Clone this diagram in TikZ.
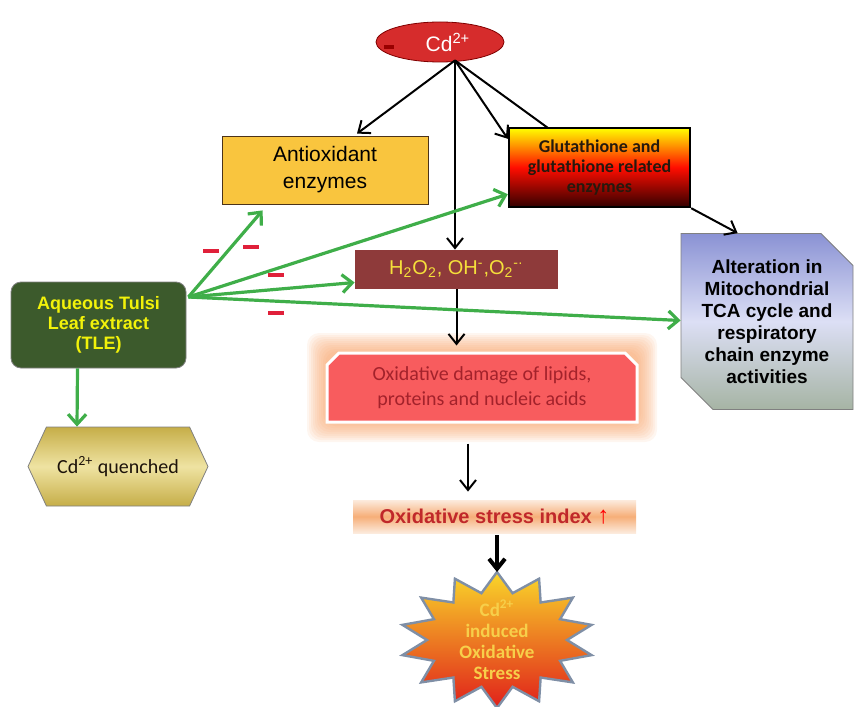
\documentclass[tikz,border=0pt]{standalone}
\usepackage{fontspec}
\setmainfont{Liberation Sans}
\newfontfamily\calib{Carlito}
\usetikzlibrary{positioning}
\usetikzlibrary{calc}
\usetikzlibrary{shapes.geometric}
\usetikzlibrary{shapes.misc}
\usetikzlibrary{shapes.symbols}
\usetikzlibrary{arrows.meta}
\definecolor{cdred}{HTML}{D62C2C}
\definecolor{antiox}{HTML}{F9C53E}
\definecolor{rosbox}{HTML}{8E3A3A}
\definecolor{rostext}{HTML}{F5E03A}
\definecolor{tlegreen}{HTML}{3C5A2C}
\definecolor{tleyellow}{HTML}{F2F20A}
\definecolor{arrowgreen}{HTML}{3FAE49}
\definecolor{dmgred}{HTML}{F85C5E}
\definecolor{dmgtext}{HTML}{A3222B}
\definecolor{glow}{HTML}{F79A5A}
\definecolor{minusred}{HTML}{E0203A}
\definecolor{qgold}{HTML}{C6AE48}
\definecolor{qlight}{HTML}{EFE3A2}
\definecolor{altblue}{HTML}{8A92D4}
\definecolor{altlight}{HTML}{DCDFF5}
\definecolor{altgrey}{HTML}{A6B4A4}
\definecolor{idxlight}{HTML}{FCEBDD}
\definecolor{idxpeach}{HTML}{F6AE78}
\definecolor{idxred}{HTML}{C0282A}
\definecolor{staryellow}{HTML}{F9D62A}
\definecolor{starred}{HTML}{E0201A}
\definecolor{starblue}{HTML}{7F8FA6}
\definecolor{startext}{HTML}{F7CF4A}

\begin{document}
\begin{tikzpicture}[x=0.5pt,y=-0.5pt,
  blk/.style={line width=1pt,-{Straight Barb[length=5pt,width=8pt]}},
  grn/.style={arrowgreen,line width=1.6pt,-{Straight Barb[length=5pt,width=9pt]}},
  minus/.style={minusred,line width=2pt}]
  \useasboundingbox (0,0) rectangle (855,706);

  % glow round the damage box
  \foreach \g in {2,4,...,20} {
    \fill[glow,opacity=.09,rounded corners=6pt] (327-\g,353-\g) rectangle (637+\g,422+\g);
  }

  \node[ellipse,draw=black!50!red,fill=cdred,minimum width=64pt,minimum height=20pt,inner sep=0,
    text=white,font=\fontsize{10.5}{12}\selectfont] (Cd) at (440,42) {\hspace{8pt}Cd\textsuperscript{2+}};

  \node[draw=black!60!brown,fill=antiox,minimum width=103pt,minimum height=34pt,inner sep=0,
    align=center,font=\fontsize{10.5}{13.5}\selectfont] (Antiox) at (325,170) {Antioxidant\\enzymes};

  \coordinate (cdout) at ($(Cd.south)+(15,-2)$);
  \draw[line width=1pt] (cdout) -- (548,128);

  \node[draw=black,line width=1.2pt,top color=yellow,bottom color=black!80!red,middle color=red!90!orange,
    minimum width=90.5pt,minimum height=39.5pt,inner sep=0,align=center,text=black!80!brown,
    font=\calib\bfseries\fontsize{9}{10}\selectfont] (Gluta) at (599.5,167.5)
    {Glutathione and\\glutathione related\\enzymes};

  \node[fill=rosbox,minimum width=101.5pt,minimum height=19.5pt,inner sep=0,text=rostext,
    font=\fontsize{10}{12}\selectfont] (ROS) at (456.5,269.5)
    {H\textsubscript{2}O\textsubscript{2}, OH\textsuperscript{-},O\textsubscript{2}\textsuperscript{-·}};

  \node[chamfered rectangle,chamfered rectangle corners={north east,south west},
    chamfered rectangle xsep=8pt,chamfered rectangle ysep=8pt,draw=gray,
    top color=altblue,bottom color=altgrey,middle color=altlight,
    minimum width=86pt,minimum height=88pt,inner sep=0,align=center,
    font=\bfseries\fontsize{9.5}{11}\selectfont] (Alter) at (767,321.5)
    {Alteration in\\Mitochondrial\\TCA cycle and\\respiratory\\chain enzyme\\activities};

  \node[rounded corners=5pt,draw=gray,fill=tlegreen,text=tleyellow,align=center,
    minimum width=87.5pt,minimum height=43pt,inner sep=0,
    font=\bfseries\fontsize{9}{10}\selectfont] (TLE) at (98.5,325) {Aqueous Tulsi\\Leaf extract\\(TLE)};

  \node[signal,signal to=west and east,signal pointer angle=130,draw=gray,
    top color=qgold,bottom color=qgold,middle color=qlight,
    minimum width=90pt,minimum height=39.5pt,inner sep=0,text=black!85!brown,
    font=\calib\fontsize{10}{12}\selectfont] (Quench) at (118,466.5) {Cd\textsuperscript{2+} quenched};

  \node[chamfered rectangle,chamfered rectangle corners={north west,north east},
    chamfered rectangle xsep=3pt,chamfered rectangle ysep=3pt,
    fill=dmgred,draw=white,line width=1.5pt,text=dmgtext,align=center,
    minimum width=155pt,minimum height=34.5pt,inner sep=0,
    font=\calib\fontsize{10}{12.5}\selectfont] (Damage) at (482,387.5)
    {Oxidative damage of lipids,\\proteins and nucleic acids};

  \node[top color=idxlight,bottom color=idxlight,middle color=idxpeach,
    minimum width=141.5pt,minimum height=16.5pt,inner sep=0,text=idxred,
    font=\bfseries\fontsize{10}{11}\selectfont] (Index) at (494.5,516.5)
    {Oxidative stress index \textcolor{red}{\fontsize{12}{12}\selectfont↑}};

  % starburst
  \draw[starblue,line width=1.2pt,top color=staryellow,bottom color=starred]
    plot[samples at={0,...,27}] ({497+(mod(\x,2)==0?97:70)*sin(\x*360/28)},
                                 {640-(mod(\x,2)==0?68:48)*cos(\x*360/28)}) -- cycle;
  \coordinate (startop) at (497,572);
  \node[align=center,text=startext,inner sep=0,
    font=\calib\bfseries\fontsize{9.5}{10.5}\selectfont] (Star) at (497,640)
    {Cd\textsuperscript{2+}\\induced\\Oxidative\\Stress};

  \draw[minus,red!60!black] (384,47) -- (394,47);

  % black arrows
  \draw[blk] (cdout) -- ($(Antiox.north)+(32,-2)$);
  \draw[blk] (cdout) -- ($(Gluta.north west)+(0,12)$);
  \draw[blk] (cdout) -- (cdout |- ROS.north);
  \draw[blk,shorten >=3pt] (ROS.south) -- (ROS.south |- Damage.north);
  \draw[blk] ($(Damage.south)+(-14,20)$) -- ($(Index.north)+(-26.5,-8)$);
  \draw[blk,line width=2pt] ($(Index.south)+(2.5,2)$) -- (startop);
  \draw[blk] (Gluta.south east) -- ($(Alter.north west)+(57,0)$);

  % green arrows
  \coordinate (tleout) at ($(TLE.east)+(2,-28)$);
  \draw[grn] (tleout) -- ($(Antiox.south west)+(41,6)$);
  \draw[grn] (tleout) -- ($(Gluta.south west)+(0,-14)$);
  \draw[grn] (tleout) -- ($(ROS.west)+(0,13)$);
  \draw[grn] (tleout) -- ($(Alter.west)+(0,-1)$);
  \draw[grn] ($(TLE.south)+(-21,0)$) -- ($(Quench.north)+(-41,0)$);

  \foreach \mx/\my in {211/251,251/247,276/275,276/313} {
    \draw[minus] (\mx-8,\my) -- (\mx+8,\my);
  }
\end{tikzpicture}
\end{document}
